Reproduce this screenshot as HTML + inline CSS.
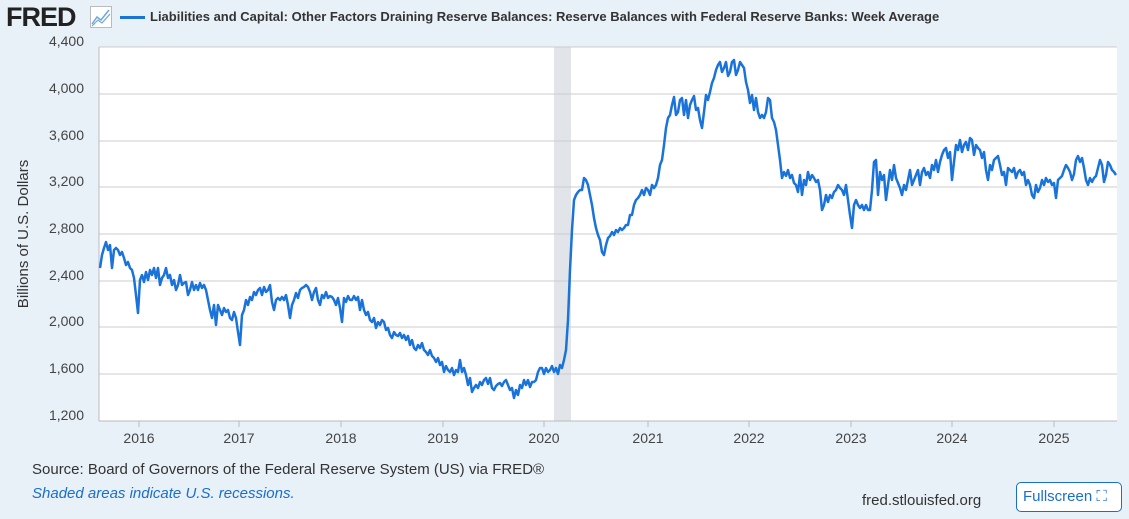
<!DOCTYPE html>
<html><head><meta charset="utf-8"><style>
body{margin:0;width:1129px;height:519px;background:#e8f0f8;font-family:"Liberation Sans",sans-serif;overflow:hidden;position:relative}
.t{position:absolute;white-space:nowrap}
</style></head><body>
<div class="t" style="left:6px;top:2px;font-size:27px;font-weight:bold;color:#222;letter-spacing:-1px">FRED</div>
<svg class="t" style="left:90px;top:6px" width="22" height="22"><rect x="0.5" y="0.5" width="21" height="21" fill="#fff" stroke="#bbb"/><polyline points="2,18 7,11 11,14 19,4" fill="none" stroke="#6aa6dc" stroke-width="1.5"/><polyline points="2,20 8,14 12,17 20,8" fill="none" stroke="#6aa6dc" stroke-width="1.2"/></svg>
<div class="t" style="left:120px;top:16px;width:25px;height:3px;background:#1a73d9"></div>
<div class="t" style="left:150px;top:9px;font-size:13px;font-weight:bold;color:#333">Liabilities and Capital: Other Factors Draining Reserve Balances: Reserve Balances with Federal Reserve Banks: Week Average</div>
<svg class="t" style="left:0;top:0" width="1129" height="460">
<rect x="99" y="47" width="1018" height="374" fill="#fff"/>
<rect x="554" y="47" width="17" height="374" fill="#e1e5ea"/>
<g stroke="#ccc" stroke-width="1">
<line x1="99" x2="1117" y1="47" y2="47"/><line x1="99" x2="1117" y1="94" y2="94"/><line x1="99" x2="1117" y1="141" y2="141"/><line x1="99" x2="1117" y1="187" y2="187"/><line x1="99" x2="1117" y1="234" y2="234"/><line x1="99" x2="1117" y1="281" y2="281"/><line x1="99" x2="1117" y1="327" y2="327"/><line x1="99" x2="1117" y1="374" y2="374"/>
</g>
<line x1="99" x2="1117" y1="421" y2="421" stroke="#bbb"/>
<line x1="99" x2="99" y1="47" y2="421" stroke="#bbb"/>
<g stroke="#bbb"><line x1="139" x2="139" y1="421" y2="427"/><line x1="239" x2="239" y1="421" y2="427"/><line x1="341" x2="341" y1="421" y2="427"/><line x1="443" x2="443" y1="421" y2="427"/><line x1="544" x2="544" y1="421" y2="427"/><line x1="648" x2="648" y1="421" y2="427"/><line x1="749" x2="749" y1="421" y2="427"/><line x1="851" x2="851" y1="421" y2="427"/><line x1="952" x2="952" y1="421" y2="427"/><line x1="1054" x2="1054" y1="421" y2="427"/></g>
<g font-size="14" fill="#444" text-anchor="end">
<text x="84" y="46">4,400</text><text x="84" y="93">4,000</text><text x="84" y="140">3,600</text><text x="84" y="186">3,200</text><text x="84" y="233">2,800</text><text x="84" y="280">2,400</text><text x="84" y="326">2,000</text><text x="84" y="373">1,600</text><text x="84" y="420">1,200</text>
</g>
<g font-size="14" fill="#444" text-anchor="middle">
<text x="139" y="443">2016</text><text x="239" y="443">2017</text><text x="341" y="443">2018</text><text x="443" y="443">2019</text><text x="544" y="443">2020</text><text x="648" y="443">2021</text><text x="749" y="443">2022</text><text x="851" y="443">2023</text><text x="952" y="443">2024</text><text x="1054" y="443">2025</text>
</g>
<text transform="translate(28,234) rotate(-90)" font-size="15" fill="#333" text-anchor="middle">Billions of U.S. Dollars</text>
<polyline fill="none" stroke="#1a73d9" stroke-width="2.5" stroke-linejoin="round" points="100,268 102,255 104,248 106,242 108,250 110,245 112,268 114,250 116,248 118,250 120,255 122,252 124,258 126,265 128,262 130,268 132,270 134,278 136,295 138,313 140,280 142,275 144,282 146,272 148,280 150,270 152,275 154,268 156,278 158,268 160,285 162,278 164,275 166,268 168,278 170,275 172,285 174,280 176,290 178,285 180,275 182,285 184,283 186,282 188,295 190,290 192,282 194,290 196,285 198,290 200,283 202,288 204,285 206,290 208,300 210,310 212,318 214,305 216,325 218,305 220,310 222,315 224,308 226,312 228,310 230,318 232,320 234,312 236,318 238,332 240,345 242,315 244,310 246,300 248,305 250,297 252,300 254,292 256,295 258,290 260,288 262,295 264,287 266,292 268,290 270,285 272,302 274,310 276,300 278,298 280,300 282,297 284,300 286,295 288,305 290,318 292,305 294,300 296,293 298,298 300,290 302,288 304,287 306,285 308,287 310,292 312,300 314,292 316,288 318,300 320,305 322,295 324,298 326,292 328,298 330,296 332,297 334,300 336,305 338,298 340,308 342,322 344,298 346,302 348,296 350,300 352,300 354,296 356,300 358,297 360,310 362,300 364,310 366,315 368,312 370,320 372,322 374,318 376,328 378,322 380,325 382,320 384,322 386,330 388,328 390,335 392,338 394,332 396,335 398,336 400,333 402,338 404,335 406,340 408,336 410,345 412,340 414,348 416,350 418,345 420,348 422,343 424,350 426,352 428,355 430,350 432,356 434,358 436,362 438,358 440,365 442,362 444,372 446,366 448,370 450,372 452,368 454,375 456,370 458,372 460,360 462,372 464,368 466,375 468,385 470,378 472,392 474,388 476,385 478,388 480,382 482,385 484,380 486,378 488,384 490,378 492,388 494,390 496,386 498,384 500,383 502,386 504,382 506,380 508,385 510,390 512,388 514,398 516,390 518,395 520,385 522,388 524,380 526,385 528,380 530,387 532,382 534,382 536,380 538,372 540,368 542,368 544,374 546,368 548,372 550,370 552,366 554,372 556,368 558,374 560,365 562,368 564,360 566,350 568,320 570,270 572,230 574,200 576,195 578,192 580,190 582,190 584,178 586,180 588,185 590,195 592,205 594,218 596,228 598,235 600,240 602,252 604,255 606,245 608,238 610,236 612,232 614,235 616,230 618,232 620,228 622,230 624,228 626,225 628,225 630,215 632,215 634,205 636,200 638,198 640,195 642,190 644,195 646,188 648,190 650,195 652,185 654,188 656,185 658,178 660,165 662,160 664,145 666,128 668,118 670,115 672,105 674,97 676,115 678,112 680,100 682,98 684,115 686,100 688,118 690,105 692,100 694,96 696,110 698,108 700,120 702,128 704,112 706,95 708,100 710,92 712,83 714,78 716,70 718,65 720,62 722,72 724,68 726,62 728,76 730,72 732,62 734,60 736,75 738,70 740,62 742,65 744,68 746,82 748,90 750,103 752,95 754,110 756,98 758,112 760,118 762,115 764,118 766,112 768,98 770,100 772,118 774,122 776,130 778,145 780,160 782,178 784,172 786,176 788,170 790,178 792,175 794,183 796,185 798,192 800,175 802,195 804,180 806,185 808,172 810,180 812,175 814,178 816,182 818,180 820,190 822,210 824,205 826,195 828,202 830,195 832,198 834,192 836,190 838,185 840,188 842,190 844,195 846,185 848,200 850,215 852,228 854,205 856,200 858,205 860,208 862,205 864,210 866,205 868,210 870,210 872,190 874,162 876,160 878,195 880,172 882,180 884,175 886,200 888,185 890,170 892,180 894,165 896,178 898,183 900,188 902,195 904,185 906,190 908,180 910,170 912,185 914,180 916,175 918,170 920,185 922,172 924,168 926,175 928,172 930,178 932,165 934,170 936,160 938,172 940,162 942,155 944,150 946,148 948,158 950,152 952,180 954,162 956,145 958,150 960,140 962,152 964,145 966,142 968,150 970,138 972,140 974,155 976,145 978,148 980,150 982,158 984,152 986,170 988,180 990,165 992,170 994,160 996,158 998,156 1000,165 1002,175 1004,172 1006,185 1008,168 1010,170 1012,172 1014,168 1016,178 1018,172 1020,170 1022,175 1024,172 1026,185 1028,180 1030,185 1032,195 1034,198 1036,185 1038,192 1040,188 1042,180 1044,185 1046,178 1048,182 1050,180 1052,185 1054,183 1056,198 1058,180 1060,178 1062,176 1064,170 1066,165 1068,168 1070,172 1072,180 1074,174 1076,160 1078,156 1080,162 1082,158 1084,168 1086,180 1088,185 1090,178 1092,182 1094,178 1096,176 1098,168 1100,160 1102,165 1104,182 1106,175 1108,162 1110,165 1112,170 1114,172 1116,175"/>
</svg>
<div class="t" style="left:32px;top:461px;font-size:15px;color:#333">Source: Board of Governors of the Federal Reserve System (US) via FRED®</div>
<div class="t" style="left:32px;top:485px;font-size:15px;color:#1a6fc9;font-style:italic">Shaded areas indicate U.S. recessions.</div>
<div class="t" style="left:862px;top:492px;font-size:15px;color:#333">fred.stlouisfed.org</div>
<div class="t" style="left:1016px;top:482px;width:106px;height:30px;border:1px solid #1a6fc9;border-radius:5px;background:#fff;box-sizing:border-box;font-size:15px;color:#1a6fc9;line-height:28px;padding-left:6px">Fullscreen ⛶</div>
</body></html>
